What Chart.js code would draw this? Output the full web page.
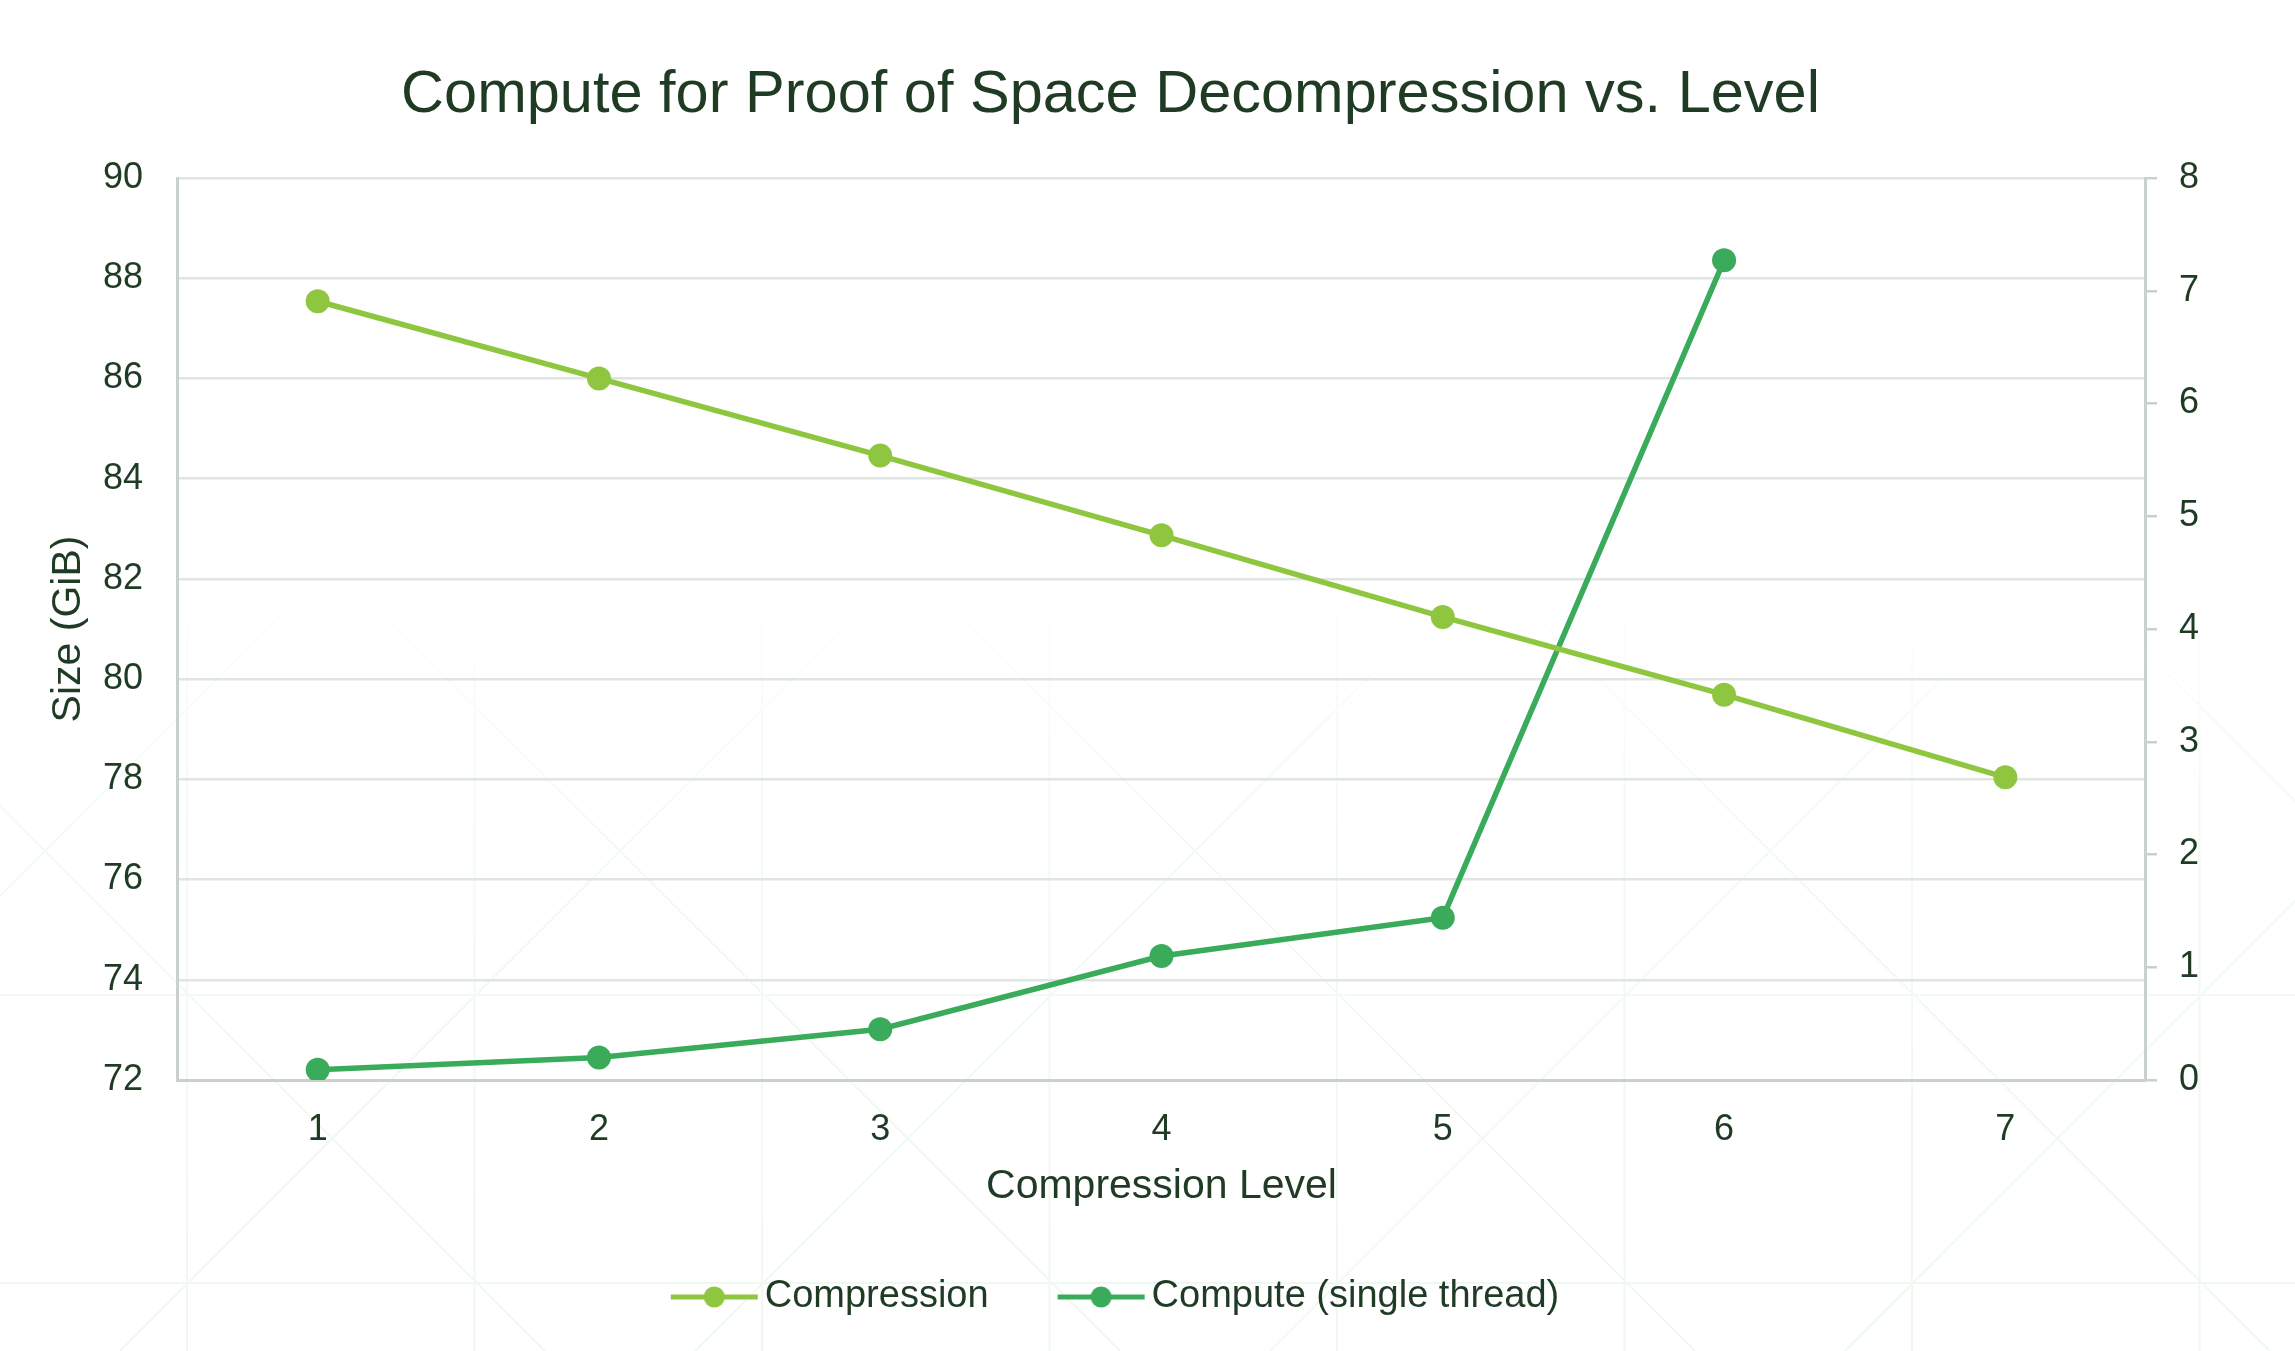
<!DOCTYPE html>
<html>
<head>
<meta charset="utf-8">
<title>Compute for Proof of Space Decompression vs. Level</title>
<script src="https://cdn.jsdelivr.net/npm/chart.js@4.4.1/dist/chart.umd.min.js"></script>
<style>
  html, body { margin: 0; padding: 0; background: #ffffff; }
  #wrap { width: 2295px; height: 1351px; }
</style>
</head>
<body>
<div id="wrap"><canvas id="chart" width="2295" height="1351"></canvas></div>
<script>
// values
let levels = ["1", "2", "3", "4", "5", "6", "7"]
let compressionGiB = [87.54, 86.0, 84.46, 82.87, 81.24, 79.69, 78.04]
let computeSingleThread = [0.09, 0.2, 0.45, 1.1, 1.44, 7.27, null]
let seriesNames = ["Compression", "Compute (single thread)"]

let sizeMin = 72, sizeMax = 90, sizeStep = 2
let computeMin = 0, computeMax = 8, computeStep = 1

const textColor = "#1f3b24"
const gridColor = "#dfe5e1"
const axisColor = "#c9d1cc"
const lightGreen = "#8fc63f"
const darkGreen = "#3aab5a"
const fontFamily = "'Liberation Sans', Arial, Helvetica, sans-serif"

// legend marker: short line with a dot in the middle
function legendMarker(color){
    const c = document.createElement("canvas")
    c.width = 110
    c.height = 26
    const g = c.getContext("2d")
    g.strokeStyle = color
    g.lineWidth = 5
    g.beginPath()
    g.moveTo(22, 13)
    g.lineTo(109, 13)
    g.stroke()
    g.fillStyle = color
    g.beginPath()
    g.arc(65.5, 13, 10.5, 0, Math.PI * 2)
    g.fill()
    return c
}
const markers = [legendMarker(lightGreen), legendMarker(darkGreen)]

// faint lattice in the background
const backdrop = {
    id: "backdrop",
    beforeDraw(chart){
        const {ctx, width, height} = chart
        ctx.save()
        ctx.fillStyle = "#ffffff"
        ctx.fillRect(0, 0, width, height)
        const grad = ctx.createLinearGradient(0, 560, 0, height)
        grad.addColorStop(0, "rgba(70,185,100,0)")
        grad.addColorStop(0.35, "rgba(70,185,100,0.07)")
        grad.addColorStop(1, "rgba(70,185,100,0.09)")
        ctx.strokeStyle = grad
        ctx.lineWidth = 2
        ctx.beginPath()
        for (let x = 187 - 287.5; x < width; x += 287.5){
            ctx.moveTo(x, 560); ctx.lineTo(x, height)
        }
        ctx.moveTo(0, 995); ctx.lineTo(width, 995)
        ctx.moveTo(0, 1283); ctx.lineTo(width, 1283)
        for (let k = -6; k < 8; k++){
            const a = -806 + k * 575
            ctx.moveTo(560 + a, 560); ctx.lineTo(height + a, height)
            const b = 896 + k * 575
            ctx.moveTo(b - 560, 560); ctx.lineTo(b - height, height)
        }
        ctx.stroke()
        ctx.restore()
    }
}

Chart.defaults.font.family = fontFamily
Chart.defaults.color = textColor

new Chart(document.getElementById("chart"), {
    type: "line",
    data: {
        labels: levels,
        datasets: [{
            label: seriesNames[0],
            data: compressionGiB,
            yAxisID: "y",
            borderColor: lightGreen,
            backgroundColor: lightGreen,
            borderWidth: 5.5,
            pointRadius: 12,
            pointBorderWidth: 0,
            pointBackgroundColor: lightGreen,
            tension: 0
        },
        {
            label: seriesNames[1],
            data: computeSingleThread,
            yAxisID: "y1",
            borderColor: darkGreen,
            backgroundColor: darkGreen,
            borderWidth: 5.5,
            pointRadius: 12,
            pointBorderWidth: 0,
            pointBackgroundColor: darkGreen,
            tension: 0
        }]
    },
    options: {
        responsive: false,
        devicePixelRatio: 1,
        animation: false,
        layout: {
            padding: {left: 0, right: 74, top: 0, bottom: 25}
        },
        plugins: {
            tooltip: {enabled: false},
            title: {
                display: true,
                text: "Compute for Proof of Space Decompression vs. Level",
                color: textColor,
                font: {size: 59.5, weight: "normal"},
                padding: {top: 60, bottom: 46.6}
            },
            legend: {
                display: true,
                position: "bottom",
                labels: {
                    usePointStyle: true,
                    pointStyleWidth: 84,
                    boxHeight: 20,
                    padding: 60,
                    color: textColor,
                    font: {size: 38},
                    generateLabels: (chart) => chart.data.datasets.map((ds, i) => ({
                        text: ds.label,
                        datasetIndex: i,
                        pointStyle: markers[i],
                        fillStyle: ds.borderColor,
                        strokeStyle: ds.borderColor,
                        lineWidth: 0,
                        hidden: false,
                        fontColor: textColor
                    }))
                }
            }
        },
        scales: {
            x: {
                type: "category",
                offset: true,
                grid: {display: true, drawOnChartArea: false, tickColor: "transparent", tickLength: 17.6},
                border: {color: axisColor, width: 3},
                ticks: {color: textColor, font: {size: 36}, padding: 10.8},
                title: {
                    display: true,
                    text: "Compression Level",
                    color: textColor,
                    font: {size: 41},
                    padding: {top: 0, bottom: 6.4}
                }
            },
            y: {
                position: "left",
                min: sizeMin,
                max: sizeMax,
                ticks: {stepSize: sizeStep, color: textColor, font: {size: 36}, padding: 9.4},
                grid: {color: gridColor, lineWidth: 2.5, tickColor: "transparent", tickLength: 24.6},
                border: {color: axisColor, width: 3},
                title: {
                    display: true,
                    text: "Size (GiB)",
                    color: textColor,
                    font: {size: 41},
                    padding: {top: 44.4, bottom: 0}
                }
            },
            y1: {
                position: "right",
                min: computeMin,
                max: computeMax,
                ticks: {stepSize: computeStep, color: textColor, font: {size: 36}, padding: 22},
                grid: {drawOnChartArea: false, color: axisColor, tickColor: axisColor, lineWidth: 2.5, tickLength: 11},
                border: {color: axisColor, width: 3}
            }
        }
    },
    plugins: [backdrop]
})
</script>
</body>
</html>
